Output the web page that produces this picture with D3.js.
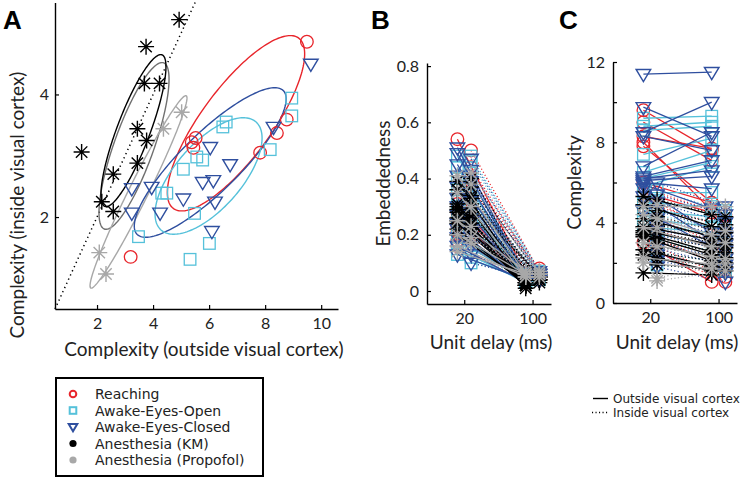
<!DOCTYPE html>
<html><head><meta charset="utf-8">
<script src="https://cdn.jsdelivr.net/npm/d3@7"></script>
<style>body{margin:0;background:#fff} svg{display:block}</style>
</head><body><svg id="c" width="750" height="480"></svg>
<script>
// ---------------- DATA ----------------
const conditions = ["Reaching","Awake-Eyes-Open","Awake-Eyes-Closed","Anesthesia (KM)","Anesthesia (Propofol)"];
const condColors = ["#e8252b","#55c1da","#2f4f9f","#000000","#a8a8a8"];
const condMarkers = ["circle","square","triangle","asterisk","asterisk"];
const delayLabels = ["20","100"];
const lineLegend = ["Outside visual cortex","Inside visual cortex"];

// Panel A: [complexity outside, complexity inside]
const aReaching   = [[9.49,4.86],[5.52,3.29],[5.38,3.22],[5.44,3.13],[8.77,3.59],[8.42,3.37],[7.82,3.05],[3.2,1.35]];
const aEyesOpen   = [[8.95,3.94],[8.95,3.65],[6.61,3.55],[6.49,3.47],[8.18,3.10],[5.56,2.98],[5.77,2.93],[5.08,2.78],[4.31,2.39],[4.49,2.39],[5.48,2.06],[6.01,1.57],[3.48,1.68],[5.32,1.31]];
const aEyesClosed = [[9.63,4.50],[8.30,3.47],[6.04,3.14],[6.75,2.86],[5.77,2.57],[6.15,2.60],[5.08,2.30],[6.21,2.25],[6.10,1.77],[3.24,2.47],[3.95,2.49],[3.24,2.07],[4.25,2.07]];
const aKM         = [[4.93,5.22],[3.75,4.78],[3.69,4.18],[4.23,4.18],[3.44,3.44],[3.77,3.25],[1.45,3.06],[3.44,2.88],[2.58,2.70],[2.17,2.25],[2.58,2.09]];
const aPropofol   = [[5.02,3.71],[4.37,3.44],[2.08,1.42],[2.32,1.07]];
// ellipses: [centre x, centre y, half-extent x, half-extent y, correlation]
const ellReaching   = [6.96,3.53,2.45,1.43,0.79];
const ellEyesOpen   = [5.98,2.67,1.91,0.95,0.65];
const ellEyesClosed = [6.04,2.89,2.71,1.22,0.85];
const ellKM         = [3.30,3.41,1.16,1.24,0.84];
const ellKMOuter    = [3.32,3.16,1.25,1.36,0.80];
const ellPropofol   = [3.48,2.41,1.73,1.57,0.975];
const aXTicks = [2,4,6,8,10];
const aYTicks = [2,4];

// Panel B: embeddedness [20 ms, 100 ms]
const bOutReaching = [[0.54,0.06],[0.31,0.05],[0.26,0.04],[0.23,0.05],[0.21,0.03],[0.18,0.04],[0.28,0.06],[0.16,0.03]];
const bInReaching  = [[0.50,0.07],[0.44,0.06],[0.40,0.07],[0.33,0.05],[0.29,0.06],[0.24,0.05],[0.20,0.04],[0.36,0.08]];
const bOutEyesOpen = [[0.48,0.06],[0.44,0.05],[0.40,0.05],[0.36,0.04],[0.33,0.05],[0.30,0.04],[0.27,0.05],[0.24,0.04],[0.21,0.03],[0.18,0.04],[0.15,0.03],[0.13,0.04]];
const bInEyesOpen  = [[0.48,0.07],[0.46,0.06],[0.42,0.07],[0.38,0.06],[0.34,0.05],[0.31,0.06],[0.27,0.05],[0.23,0.06],[0.19,0.05],[0.15,0.05],[0.12,0.04],[0.10,0.05]];
const bOutEyesClosed = [[0.51,0.05],[0.49,0.04],[0.45,0.05],[0.41,0.04],[0.37,0.05],[0.33,0.03],[0.30,0.04],[0.27,0.03],[0.24,0.04],[0.22,0.03],[0.19,0.04],[0.16,0.03],[0.13,0.04]];
const bInEyesClosed  = [[0.47,0.07],[0.43,0.06],[0.39,0.06],[0.35,0.05],[0.32,0.06],[0.28,0.05],[0.25,0.05],[0.22,0.04],[0.19,0.05],[0.16,0.04],[0.13,0.04],[0.10,0.04],[0.21,0.05]];
const bOutKM = [[0.39,0.03],[0.36,0.02],[0.31,0.02],[0.30,0.03],[0.28,0.02],[0.26,0.02],[0.24,0.03],[0.22,0.02],[0.20,0.03],[0.29,0.01],[0.25,0.04]];
const bInKM  = [[0.40,0.05],[0.37,0.04],[0.33,0.04],[0.31,0.05],[0.28,0.04],[0.26,0.05],[0.24,0.04],[0.22,0.05],[0.27,0.03],[0.30,0.06],[0.34,0.05]];
const bOutPropofol = [[0.41,0.06],[0.35,0.05],[0.16,0.05],[0.14,0.06],[0.25,0.07],[0.20,0.06]];
const bInPropofol  = [[0.42,0.07],[0.38,0.06],[0.19,0.05],[0.17,0.06],[0.30,0.07],[0.23,0.06]];
const bYTicks = [0,0.2,0.4,0.6,0.8];

// Panel C: complexity [20 ms, 100 ms]
const cOutReaching = [[9.6,7.6],[9.0,7.1],[8.3,7.7],[8.0,4.6],[7.8,5.0],[6.0,5.0],[5.5,4.5],[3.0,1.05]];
const cInReaching  = [[5.5,4.4],[4.8,3.8],[4.2,2.8],[3.6,2.6],[3.2,1.8],[2.8,1.3],[2.6,1.05],[5.0,3.3]];
const cOutEyesOpen = [[9.2,9.3],[8.8,9.0],[8.6,8.8],[7.4,8.2],[6.5,7.6],[6.2,7.0],[5.8,6.8],[5.5,5.5],[5.0,4.8],[4.6,4.3],[4.2,3.8],[3.8,3.5]];
const cInEyesOpen  = [[5.6,4.6],[5.1,4.2],[4.7,3.9],[4.4,3.6],[4.0,3.3],[3.7,3.0],[3.4,2.7],[3.1,2.5],[2.8,2.2],[2.5,2.0],[2.2,1.8],[1.9,1.6]];
const cOutEyesClosed = [[11.4,11.5],[9.75,8.3],[8.5,10.0],[8.3,7.6],[6.8,8.5],[6.3,7.1],[6.2,6.6],[6.1,6.3],[6.0,5.7],[5.9,4.7],[5.7,3.5],[5.3,3.1],[4.6,2.8]];
const cInEyesClosed  = [[6.0,4.8],[5.4,4.4],[5.0,4.0],[4.6,3.5],[4.2,3.3],[3.8,2.9],[3.4,2.6],[3.0,2.2],[2.7,1.9],[2.4,1.7],[2.1,1.5],[1.8,1.05],[3.6,3.1]];
const cOutKM = [[5.3,4.4],[4.9,3.8],[4.2,3.3],[3.8,3.15],[3.6,2.9],[3.5,2.55],[3.4,2.4],[3.3,2.1],[2.65,1.8],[2.4,1.6],[1.5,1.4]];
const cInKM  = [[5.15,4.3],[4.6,3.9],[4.3,3.5],[3.9,3.2],[3.5,2.9],[3.2,2.75],[3.0,2.5],[2.8,2.25],[2.5,2.0],[2.2,1.8],[1.9,1.6]];
const cOutPropofol = [[4.8,4.8],[3.75,2.8],[2.25,1.95],[2.0,1.7],[4.4,3.4],[3.0,2.3]];
const cInPropofol  = [[4.9,4.8],[3.75,3.0],[1.25,1.95],[1.1,1.6],[4.2,3.6],[2.8,2.2]];
const cYTicks = [0,2,4,6,8,10,12];
const cYLabels = [0,4,8,12];

// ---------------- DRAWING ----------------
const FONT = "Lato, 'Open Sans', sans-serif";
const LEGFONT = "'DejaVu Sans', sans-serif";
const svg = d3.select("#c");

function drawMarker(g, type, cx, cy, color){
  if(type==="circle"){
    g.append("circle").attr("cx",cx).attr("cy",cy).attr("r",6.3)
      .attr("fill","none").attr("stroke",color).attr("stroke-width",1.3);
  } else if(type==="square"){
    const s=5.8;
    g.append("rect").attr("x",cx-s).attr("y",cy-s).attr("width",2*s).attr("height",2*s)
      .attr("fill","none").attr("stroke",color).attr("stroke-width",1.3);
  } else if(type==="triangle"){
    g.append("path").attr("d",`M${cx-7.3},${cy-4.6}L${cx+7.3},${cy-4.6}L${cx},${cy+7.6}Z`)
      .attr("fill","none").attr("stroke",color).attr("stroke-width",1.4);
  } else {
    const a=8, d=5.7;
    g.append("path").attr("d",`M${cx-a},${cy}L${cx+a},${cy}M${cx},${cy-a}L${cx},${cy+a}M${cx-d},${cy-d}L${cx+d},${cy+d}M${cx-d},${cy+d}L${cx+d},${cy-d}`)
      .attr("fill","none").attr("stroke",color).attr("stroke-width",1.4);
  }
}

function styleAxis(g, fs){
  g.select(".domain").attr("stroke","#000").attr("stroke-width",1.4);
  g.selectAll(".tick line").attr("stroke","#000").attr("stroke-width",1.2);
  g.selectAll(".tick text").attr("font-family",FONT).attr("font-size",fs).attr("fill","#222");
}

function panelLetter(t,x,y){
  svg.append("text").attr("x",x).attr("y",y).text(t)
    .attr("font-family","Liberation Sans, Arial, sans-serif").attr("font-weight","bold").attr("font-size",26);
}

// ----- Panel A -----
const xA = d3.scaleLinear().domain([0.5,10.6]).range([55,338]);
const yA = d3.scaleLinear().domain([0.5,5.5]).range([309,2.5]);
const gA = svg.append("g");

gA.append("line").attr("x1",xA(0.5)).attr("y1",yA(0.5)).attr("x2",xA(5.5)).attr("y2",yA(5.5))
  .attr("stroke","#000").attr("stroke-width",1.5).attr("stroke-dasharray","1.3,3.3");

const ellipses = [[ellKMOuter,"#707070"],[ellKM,"#000"],[ellPropofol,"#a8a8a8"],[ellReaching,condColors[0]],[ellEyesClosed,condColors[2]],[ellEyesOpen,condColors[1]]];
const ts = d3.range(0, 2*Math.PI, Math.PI/90);
ellipses.forEach(([e,col])=>{
  const [cx,cy,sx,sy,r] = e;
  const pts = ts.map(t=>[xA(cx+sx*Math.cos(t)), yA(cy+sy*(r*Math.cos(t)+Math.sqrt(1-r*r)*Math.sin(t)))]);
  gA.append("path").attr("d",d3.line().curve(d3.curveLinearClosed)(pts))
    .attr("fill","none").attr("stroke",col).attr("stroke-width",1.4);
});

[aReaching,aEyesOpen,aEyesClosed,aKM,aPropofol].forEach((arr,i)=>{
  arr.forEach(p=>drawMarker(gA,condMarkers[i],xA(p[0]),yA(p[1]),condColors[i]));
});

const axAx = gA.append("g").attr("transform",`translate(0,309)`)
  .call(d3.axisBottom(xA).tickValues(aXTicks).tickFormat(d3.format("d")).tickSizeInner(-4).tickSizeOuter(0).tickPadding(9));
styleAxis(axAx,16);
const axAy = gA.append("g").attr("transform",`translate(55,0)`)
  .call(d3.axisLeft(yA).tickValues(aYTicks).tickFormat(d3.format("d")).tickSizeInner(-4).tickSizeOuter(0).tickPadding(6));
styleAxis(axAy,16);

gA.append("text").attr("x",204).attr("y",356).attr("text-anchor","middle")
  .attr("font-family",FONT).attr("font-size",19).attr("fill","#222").text("Complexity (outside visual cortex)");
gA.append("text").attr("transform","translate(24,205) rotate(-90)").attr("text-anchor","middle")
  .attr("font-family",FONT).attr("font-size",19).attr("fill","#222").text("Complexity (inside visual cortex)");
panelLetter("A",3,29);

// legend A
const lg = svg.append("g");
lg.append("rect").attr("x",56).attr("y",378).attr("width",207).attr("height",98)
  .attr("fill","#fff").attr("stroke","#000").attr("stroke-width",2);
conditions.forEach((c,i)=>{
  const yy = 394 + i*16.5, xx = 73, col = condColors[i];
  if(i===0) lg.append("circle").attr("cx",xx).attr("cy",yy).attr("r",3.3).attr("fill","none").attr("stroke",col).attr("stroke-width",2);
  else if(i===1) lg.append("rect").attr("x",xx-3.3).attr("y",yy-3.3).attr("width",6.6).attr("height",6.6).attr("fill","none").attr("stroke",col).attr("stroke-width",2);
  else if(i===2) lg.append("path").attr("d",`M${xx-4.3},${yy-3}L${xx+4.3},${yy-3}L${xx},${yy+4.3}Z`).attr("fill","none").attr("stroke",col).attr("stroke-width",2);
  else lg.append("circle").attr("cx",xx).attr("cy",yy).attr("r",3.6).attr("fill",col);
  lg.append("text").attr("x",95).attr("y",yy+5).attr("font-family",LEGFONT).attr("font-size",14).attr("fill","#222").text(c);
});

// ----- Panels B and C -----
function pairedPanel(x0, yScale, outs, ins, yTicks, yFmt, yLabel, yLabelX, letter, letterX){
  const x = d3.scaleLinear().domain([0.455,2.27]).range([x0, x0+124]);
  const g = svg.append("g");
  const off = 0.1;
  for(let i=0;i<5;i++){
    [[outs[i],-off,null],[ins[i],off,"1.1,2.4"]].forEach(([arr,o,dash])=>{
      arr.forEach(p=>{
        const x1=x(1+o), x2=x(2+o), y1=yScale(p[0]), y2=yScale(p[1]);
        const ln = g.append("line").attr("x1",x1).attr("y1",y1).attr("x2",x2).attr("y2",y2)
          .attr("stroke",condColors[i]).attr("stroke-width",1.3);
        if(dash) ln.attr("stroke-dasharray",dash);
        drawMarker(g,condMarkers[i],x1,y1,condColors[i]);
        drawMarker(g,condMarkers[i],x2,y2,condColors[i]);
      });
    });
  }
  const yb = yScale.range()[0];
  const ax = g.append("g").attr("transform",`translate(0,${yb})`)
    .call(d3.axisBottom(x).tickValues([1,2]).tickFormat((d,i)=>delayLabels[i]).tickSizeInner(-4).tickSizeOuter(0).tickPadding(9));
  styleAxis(ax,16);
  const ay = g.append("g").attr("transform",`translate(${x0},0)`)
    .call(d3.axisLeft(yScale).tickValues(yTicks).tickFormat(yFmt).tickSizeInner(-4).tickSizeOuter(0).tickPadding(8));
  styleAxis(ay,16);
  g.append("text").attr("x",x0+64).attr("y",349).attr("text-anchor","middle")
    .attr("font-family",FONT).attr("font-size",19).attr("fill","#222").text("Unit delay (ms)");
  const ym = (yScale.range()[0]+yScale.range()[1])/2;
  g.append("text").attr("transform",`translate(${yLabelX},${ym}) rotate(-90)`).attr("text-anchor","middle")
    .attr("font-family",FONT).attr("font-size",19).attr("fill","#222").text(yLabel);
  panelLetter(letter,letterX,29);
}

const yB = d3.scaleLinear().domain([-0.0462,0.811]).range([304,63]);
pairedPanel(427,yB,
  [bOutReaching,bOutEyesOpen,bOutEyesClosed,bOutKM,bOutPropofol],
  [bInReaching,bInEyesOpen,bInEyesClosed,bInKM,bInPropofol],
  bYTicks, d=> d===0?"0":d3.format(".1f")(d), "Embeddedness", 390, "B", 371);

const yC = d3.scaleLinear().domain([0,12]).range([303,62]);
pairedPanel(613,yC,
  [cOutReaching,cOutEyesOpen,cOutEyesClosed,cOutKM,cOutPropofol],
  [cInReaching,cInEyesOpen,cInEyesClosed,cInKM,cInPropofol],
  cYTicks, d=> cYLabels.includes(d)?String(d):"", "Complexity", 581, "C", 559);

// line-style legend
const ll = svg.append("g");
ll.append("line").attr("x1",593).attr("x2",608).attr("y1",398.5).attr("y2",398.5).attr("stroke","#000").attr("stroke-width",1.4);
ll.append("line").attr("x1",592).attr("x2",608).attr("y1",412.5).attr("y2",412.5).attr("stroke","#000").attr("stroke-width",1.4).attr("stroke-dasharray","1.1,2.4");
lineLegend.forEach((t,i)=>{
  ll.append("text").attr("x",613).attr("y",403+i*14).attr("font-family",LEGFONT).attr("font-size",12).attr("fill","#222").text(t);
});
</script></body></html>
